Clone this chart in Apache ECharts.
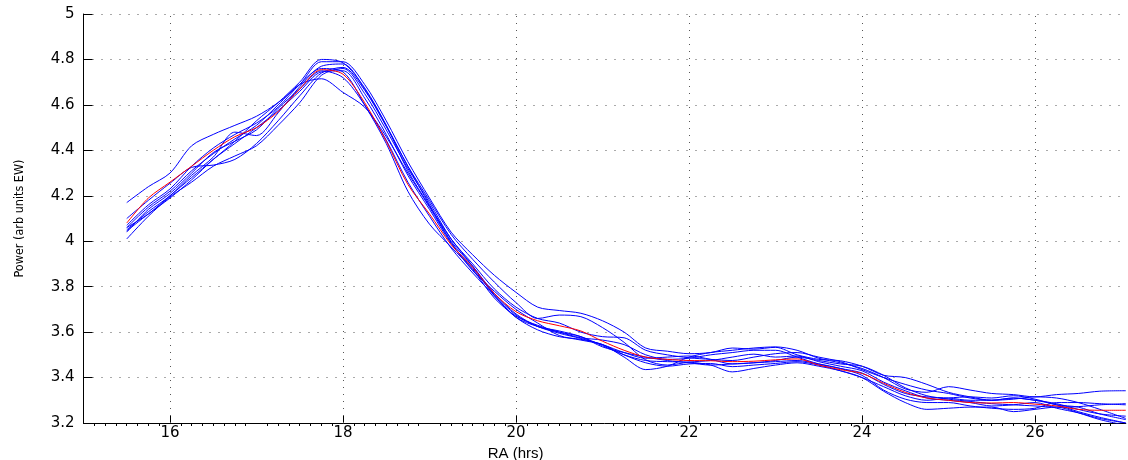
<!DOCTYPE html>
<html>
<head>
<meta charset="utf-8">
<script src="https://cdn.jsdelivr.net/npm/echarts@6/dist/echarts.min.js"></script>
<style>
html,body{margin:0;padding:0;background:#fff;}
#chart{width:1128px;height:460px;}
</style>
</head>
<body>
<div id="chart"></div>
<script>
// RA (hrs) sample positions shared by all curves
const xHours = [15.5,15.75,16,16.25,16.5,16.75,17,17.25,17.5,17.75,18,18.25,18.5,18.75,19,19.25,19.5,19.75,20,20.25,20.5,20.75,21,21.25,21.5,21.75,22,22.25,22.5,22.75,23,23.25,23.5,23.75,24,24.25,24.5,24.75,25,25.25,25.5,25.75,26,26.25,26.5,26.75,27.05];

// mean curve (red)
const meanPower = [4.08,4.19,4.26,4.33,4.40,4.46,4.50,4.57,4.67,4.755,4.735,4.61,4.44,4.25,4.12,3.985,3.885,3.77,3.69,3.65,3.628,3.605,3.56,3.52,3.49,3.48,3.475,3.474,3.47,3.472,3.478,3.482,3.455,3.435,3.418,3.375,3.335,3.31,3.30,3.29,3.288,3.29,3.283,3.275,3.26,3.256,3.256];

// individual curves (blue)
const power1 = [4.17,4.24,4.30,4.42,4.47,4.51,4.55,4.61,4.69,4.79,4.79,4.69,4.53,4.35,4.19,4.04,3.94,3.85,3.775,3.71,3.695,3.683,3.65,3.60,3.53,3.516,3.505,3.51,3.53,3.525,3.533,3.50,3.48,3.474,3.45,3.41,3.40,3.37,3.335,3.315,3.30,3.31,3.30,3.285,3.26,3.24,3.23];
const power2 = [4.05,4.13,4.20,4.29,4.37,4.48,4.465,4.565,4.68,4.77,4.78,4.67,4.51,4.33,4.18,4.03,3.92,3.82,3.73,3.66,3.675,3.668,3.62,3.555,3.478,3.455,3.468,3.475,3.49,3.503,3.49,3.495,3.47,3.45,3.43,3.38,3.342,3.31,3.30,3.29,3.275,3.28,3.29,3.265,3.245,3.22,3.20];
const power3 = [4.06,4.15,4.22,4.31,4.385,4.45,4.51,4.60,4.69,4.715,4.655,4.59,4.46,4.30,4.15,3.995,3.87,3.78,3.70,3.64,3.585,3.565,3.545,3.50,3.465,3.45,3.46,3.462,3.448,3.455,3.462,3.47,3.455,3.43,3.40,3.36,3.32,3.30,3.31,3.315,3.31,3.32,3.305,3.28,3.27,3.24,3.215];
const power4 = [4.01,4.11,4.195,4.26,4.33,4.375,4.42,4.51,4.61,4.73,4.76,4.65,4.49,4.32,4.17,4.01,3.90,3.79,3.71,3.66,3.64,3.60,3.58,3.575,3.52,3.50,3.487,3.48,3.475,3.49,3.505,3.51,3.49,3.47,3.435,3.40,3.37,3.345,3.33,3.31,3.30,3.305,3.315,3.31,3.29,3.26,3.22];
const power5 = [4.07,4.16,4.23,4.33,4.41,4.47,4.52,4.59,4.69,4.76,4.745,4.60,4.43,4.22,4.075,3.975,3.875,3.75,3.67,3.63,3.60,3.575,3.565,3.545,3.50,3.48,3.485,3.50,3.51,3.52,3.52,3.49,3.46,3.44,3.42,3.37,3.33,3.315,3.31,3.30,3.30,3.31,3.30,3.28,3.25,3.225,3.20];
const power6 = [4.04,4.14,4.21,4.30,4.39,4.44,4.49,4.585,4.67,4.75,4.72,4.60,4.445,4.26,4.11,3.97,3.86,3.76,3.665,3.61,3.58,3.568,3.545,3.49,3.435,3.45,3.49,3.51,3.52,3.53,3.535,3.52,3.485,3.465,3.44,3.40,3.35,3.335,3.36,3.345,3.33,3.325,3.315,3.325,3.33,3.34,3.342];
const power7 = [4.10,4.18,4.255,4.325,4.335,4.36,4.43,4.53,4.64,4.74,4.765,4.665,4.505,4.33,4.16,4.00,3.89,3.77,3.68,3.625,3.595,3.572,3.545,3.51,3.485,3.49,3.495,3.48,3.46,3.465,3.475,3.49,3.475,3.46,3.45,3.41,3.355,3.32,3.305,3.295,3.285,3.28,3.275,3.27,3.272,3.28,3.285];
const power8 = [4.045,4.12,4.19,4.27,4.36,4.43,4.50,4.575,4.66,4.745,4.75,4.63,4.47,4.29,4.14,3.99,3.88,3.765,3.675,3.625,3.60,3.58,3.54,3.50,3.475,3.47,3.468,3.455,3.425,3.44,3.455,3.465,3.45,3.43,3.40,3.34,3.29,3.26,3.265,3.27,3.27,3.25,3.26,3.27,3.245,3.215,3.19];
const power9 = [4.06,4.12,4.20,4.28,4.36,4.44,4.53,4.61,4.70,4.80,4.785,4.675,4.51,4.31,4.155,4.01,3.89,3.76,3.665,3.625,3.605,3.58,3.535,3.51,3.49,3.475,3.465,3.455,3.46,3.465,3.47,3.475,3.46,3.44,3.41,3.345,3.305,3.29,3.29,3.275,3.265,3.26,3.265,3.29,3.29,3.285,3.28];

// axis ticks
const xTickValues = [16,18,20,22,24,26];
const yMin = 3.2, yMax = 5, yStep = 0.2;
const xMin = 15, xMax = 27.05;

const individualCurves = [power1,power2,power3,power4,power5,power6,power7,power8,power9];

const toPairs = ys => xHours.map((x, j) => [x, ys[j]]);

const series = [];
// vertical dotted grid lines at labelled RA ticks
series.push({
  type: 'line',
  data: [[xHours[0], meanPower[0]]],
  symbol: 'none',
  lineStyle: {opacity: 0},
  silent: true,
  z: 1,
  markLine: {
    silent: true,
    symbol: ['none','none'],
    label: {show: false},
    emphasis: {disabled: true},
    animation: false,
    lineStyle: {type: [1, 6], color: '#555', width: 1},
    data: xTickValues.map(v => ({xAxis: v}))
  }
});
individualCurves.forEach(ys => {
  series.push({
    type: 'line',
    data: toPairs(ys),
    symbol: 'none',
    smooth: 0.3,
    silent: true,
    z: 2,
    lineStyle: {color: '#0000ff', width: 1},
    emphasis: {disabled: true}
  });
});
series.push({
  type: 'line',
  data: toPairs(meanPower),
  symbol: 'none',
  smooth: 0.3,
  silent: true,
  z: 3,
  lineStyle: {color: '#ff0000', width: 1},
  emphasis: {disabled: true}
});

const chart = echarts.init(document.getElementById('chart'), null, {renderer: 'canvas'});
chart.setOption({
  animation: false,
  backgroundColor: '#fff',
  grid: {left: 83.5, right: 2.2, top: 14, bottom: 37, containLabel: false, outerBoundsMode: 'none'},
  xAxis: {
    type: 'value',
    min: xMin, max: xMax, interval: 1,
    name: 'RA (hrs)',
    nameLocation: 'middle',
    nameGap: 20,
    nameTextStyle: {color: '#000', fontSize: 15, fontFamily: 'Liberation Sans, Arial, sans-serif', padding: [0, 178, 0, 0]},
    axisLine: {show: true, onZero: false, lineStyle: {color: '#000', width: 1}},
    axisTick: {show: true, inside: true, length: 7, customValues: xTickValues, lineStyle: {color: '#000'}},
    minorTick: {show: true, splitNumber: 8, length: -3, lineStyle: {color: '#000'}},
    axisLabel: {customValues: xTickValues, color: '#000', fontSize: 15, fontFamily: 'DejaVu Sans, sans-serif', margin: 3},
    splitLine: {show: false},
    minorSplitLine: {show: false}
  },
  yAxis: {
    type: 'value',
    min: yMin, max: yMax, interval: yStep,
    name: 'Power (arb units EW)',
    nameLocation: 'middle',
    nameGap: 57,
    nameTextStyle: {color: '#000', fontSize: 12.5, fontFamily: '"DejaVu Sans Condensed", "Liberation Sans", Arial, sans-serif'},
    axisLine: {show: true, onZero: false, lineStyle: {color: '#000', width: 1}},
    axisTick: {show: true, inside: true, length: 9, lineStyle: {color: '#000'}},
    axisLabel: {color: '#000', fontSize: 15, fontFamily: 'DejaVu Sans, sans-serif', margin: 9},
    splitLine: {show: true, lineStyle: {type: [1, 8], color: '#555', width: 1}}
  },
  series: series
});
</script>
</body>
</html>
